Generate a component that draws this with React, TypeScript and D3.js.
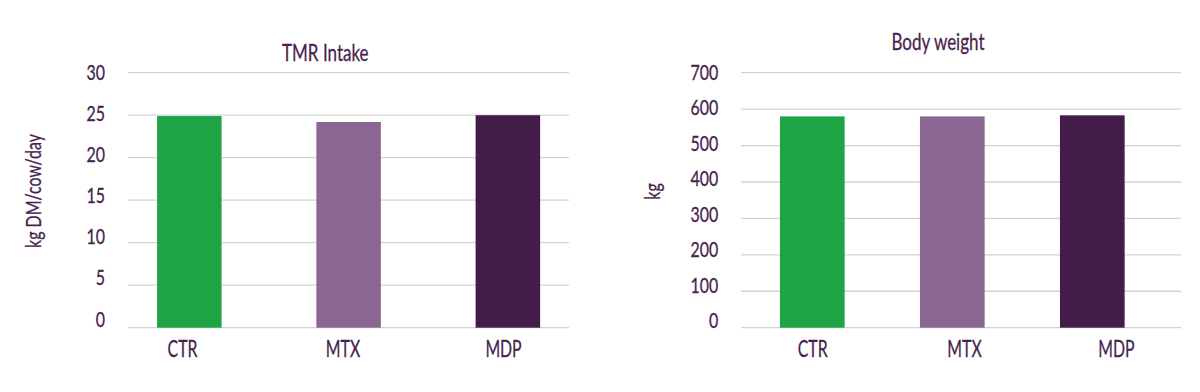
import * as d3 from "d3";
import { useEffect, useRef } from "react";

const categories = ["CTR", "MTX", "MDP"];
const tmrIntake = [24.9, 24.2, 25.0];
const bodyWeight = [580, 580, 583];
const tmrTicks = [0, 5, 10, 15, 20, 25, 30];
const weightTicks = [0, 100, 200, 300, 400, 500, 600, 700];
const barColors = ["#1ea345", "#8a6693", "#421d48"];

const TEXT = "#481f4e";
const GRID = "#d2d2d2";
const FONT = "Lato, 'Open Sans', sans-serif";

// squeezed text, the original used a condensed font
const addText = (g, x, y, txt, size, squeeze, anchor = "middle", rotate = 0) => {
  g.append("text")
    .attr("transform", `translate(${x},${y}) rotate(${rotate}) scale(${squeeze},1)`)
    .attr("text-anchor", anchor)
    .attr("font-family", FONT)
    .attr("font-size", size)
    .attr("fill", TEXT)
    .attr("stroke", TEXT)
    .attr("stroke-width", 0.3)
    .text(txt);
};

const drawPanel = (svg, opt) => {
  const g = svg.append("g");

  let y = d3.scaleLinear().domain(opt.domain).range([327.7, 72.7]);
  // tick labels sit on a slightly tighter spacing than the gridlines
  let yLabel = d3.scaleLinear().domain(opt.domain).range(opt.labelRange);

  g.selectAll("line.grid")
    .data(opt.ticks)
    .enter()
    .append("line")
    .attr("x1", opt.gridX[0])
    .attr("x2", opt.gridX[1])
    .attr("y1", (d) => y(d))
    .attr("y2", (d) => y(d))
    .attr("stroke", GRID)
    .attr("stroke-width", 1.3);

  opt.ticks.forEach((t) => addText(g, opt.tickRight, yLabel(t) + 7.5, t, 21, 0.76, "end"));

  let x = d3.scaleBand()
    .domain(categories)
    .range(opt.bandRange)
    .paddingInner(opt.pad)
    .paddingOuter(opt.pad / 2);

  g.selectAll("rect")
    .data(opt.values)
    .enter()
    .append("rect")
    .attr("x", (d, i) => x(categories[i]))
    .attr("y", (d) => y(d))
    .attr("width", x.bandwidth())
    .attr("height", (d) => y(0) - y(d))
    .attr("fill", (d, i) => barColors[i]);

  let xLabel = d3.scalePoint().domain(categories).range(opt.catRange);
  categories.forEach((c) => addText(g, xLabel(c), 357.3, c, 24, 0.66));

  addText(g, opt.titleX, opt.titleY, opt.title, 23, 0.74);
  addText(g, opt.yTitleX, opt.yTitleY, opt.yTitle, 21, 0.76, "middle", -90);
};

const App = () => {
  const ref = useRef(null);

  useEffect(() => {
    const svg = d3.select(ref.current);
    svg.selectAll("*").remove();

    drawPanel(svg, {
      domain: [0, 30],
      ticks: tmrTicks,
      values: tmrIntake,
      labelRange: [319, 72.5],
      gridX: [128, 569],
      tickRight: 105,
      bandRange: [109.7, 587.5],
      pad: 0.595,
      catRange: [182.5, 503.5],
      title: "TMR Intake",
      titleX: 325.3,
      titleY: 60.7,
      yTitle: "kg DM/cow/day",
      yTitleX: 41,
      yTitleY: 191,
    });

    drawPanel(svg, {
      domain: [0, 700],
      ticks: weightTicks,
      values: bodyWeight,
      labelRange: [320.5, 72.5],
      gridX: [741, 1181],
      tickRight: 718.3,
      bandRange: [742.3, 1162.3],
      pad: 0.538,
      catRange: [812.7, 1116.3],
      title: "Body weight",
      titleX: 938,
      titleY: 50,
      yTitle: "kg",
      yTitleX: 660,
      yTitleY: 191.5,
    });
  }, []);

  return (
    <svg
      ref={ref}
      width={1200}
      height={392}
      style={{ position: "absolute", left: 0, top: 0, background: "#fff" }}
    />
  );
};

export default App;
